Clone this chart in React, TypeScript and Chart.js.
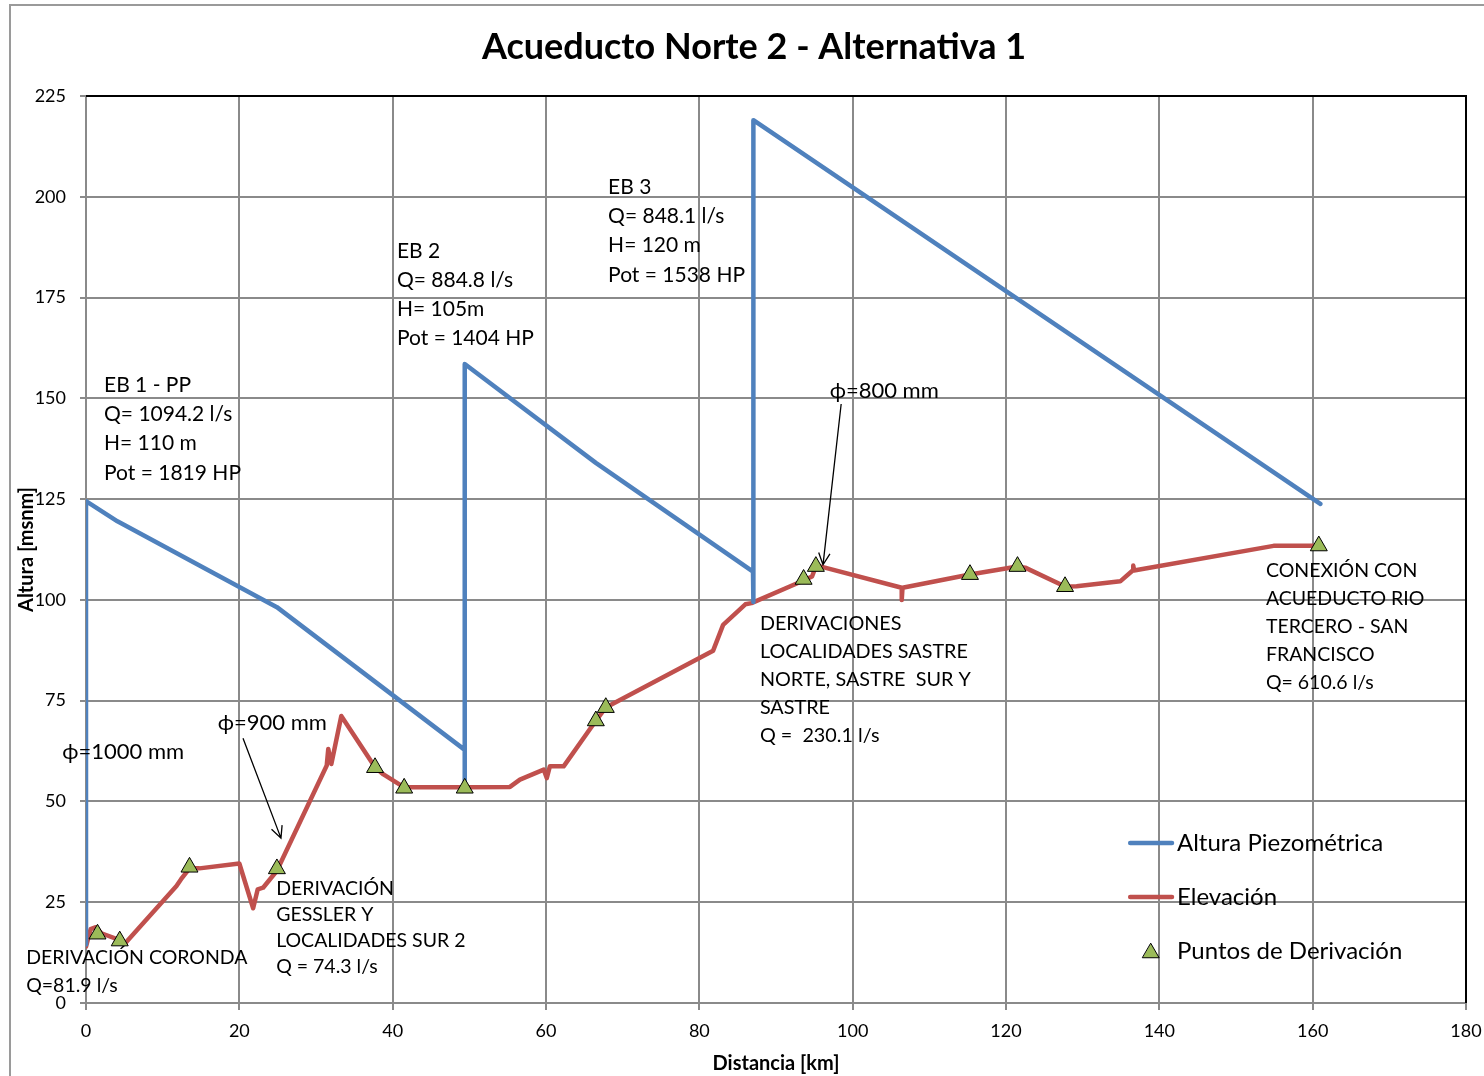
import React, { useEffect, useRef } from "react";
import { Chart, registerables } from "chart.js";

Chart.register(...registerables);

// ---- Data ----
const PIEZO_X = [0, 0, 4.1, 24.9, 49.4, 49.4, 49.4, 66.5, 87.0, 87.0, 87.1, 161.0];
const PIEZO_Y = [14.5, 124.5, 119.5, 98.2, 62.8, 53.5, 158.5, 134.0, 107.0, 99.5, 219.0, 123.8];

const ELEV_X = [0, 0.6, 1.3, 2.0, 4.4, 5.2, 11.8, 12.4, 13.5, 14.8, 20.0, 21.8, 22.4, 23.1, 24.9, 31.4, 31.6, 32.0, 33.3, 37.7, 38.8, 41.5, 42.7, 49.4, 55.3, 56.6, 59.7, 60.1, 60.5, 62.3, 66.5, 67.8, 81.8, 83.1, 86.0, 86.8, 93.6, 94.7, 95.2, 96.0, 106.4, 106.4, 106.5, 115.3, 121.5, 122.5, 127.7, 129.2, 134.9, 136.6, 136.6, 136.7, 154.9, 160.1];
const ELEV_Y = [14.0, 18.3, 18.8, 17.3, 15.6, 15.0, 29.0, 30.7, 33.4, 33.4, 34.6, 23.5, 28.2, 28.6, 32.8, 58.9, 63.0, 59.3, 71.2, 58.5, 56.7, 53.5, 53.5, 53.5, 53.6, 55.4, 57.9, 55.8, 58.7, 58.7, 70.0, 73.3, 87.4, 93.8, 98.9, 99.2, 104.8, 105.8, 108.3, 108.2, 103.0, 100.0, 103.0, 106.3, 108.3, 108.0, 103.3, 103.4, 104.6, 107.4, 108.5, 107.3, 113.4, 113.4];

const DERIV_X = [1.5, 4.4, 13.5, 24.9, 37.7, 41.5, 49.4, 66.5, 67.8, 93.6, 95.2, 115.3, 121.5, 127.7, 160.8];
const DERIV_Y = [17.1, 15.4, 33.7, 33.3, 58.4, 53.3, 53.3, 70.0, 73.3, 105.1, 108.3, 106.3, 108.3, 103.3, 113.4];

const X_MIN = 0, X_MAX = 180, X_STEP = 20;
const Y_MIN = 0, Y_MAX = 225, Y_STEP = 25;

const TITLE = "Acueducto Norte 2 - Alternativa 1";
const X_TITLE = "Distancia [km]";
const Y_TITLE = "Altura [msnm]";
const SERIES_NAMES = ["Altura Piezométrica", "Elevación", "Puntos de Derivación"];

const BLUE = "#4F81BD";
const RED = "#C0504D";
const GREEN = "#9BBB59";
const GRID = "#8a8a8a";
const FONT = "Lato, 'Open Sans', sans-serif";

// text annotations (anchor in data units, first line centre)
const NOTES = [
  { x: 2.35, y: 153.3, lh: 29.3, size: 21, lines: ["EB 1 - PP", "Q= 1094.2 l/s", "H= 110 m", "Pot = 1819 HP"] },
  { x: 40.56, y: 186.6, lh: 29.3, size: 21, lines: ["EB 2", "Q= 884.8 l/s", "H= 105m", "Pot = 1404 HP"] },
  { x: 68.1, y: 202.4, lh: 29.3, size: 21, lines: ["EB 3", "Q= 848.1 l/s", "H= 120 m", "Pot = 1538 HP"] },
  { x: 97.0, y: 151.8, lh: 28, size: 22, lines: ["ϕ=800 mm"] },
  { x: 17.2, y: 69.5, lh: 28, size: 22, lines: ["ϕ=900 mm"] },
  { x: -3.1, y: 62.3, lh: 28, size: 22, lines: ["ϕ=1000 mm"] },
  { x: 87.9, y: 94.0, lh: 28, size: 19.8, lines: ["DERIVACIONES", "LOCALIDADES SASTRE", "NORTE, SASTRE  SUR Y", "SASTRE", "Q =  230.1 l/s"] },
  { x: 153.9, y: 107.2, lh: 28, size: 19.5, lines: ["CONEXIÓN CON", "ACUEDUCTO RIO", "TERCERO - SAN", "FRANCISCO", "Q= 610.6 l/s"] },
  { x: 24.8, y: 28.3, lh: 26, size: 19.5, lines: ["DERIVACIÓN", "GESSLER Y", "LOCALIDADES SUR 2", "Q = 74.3 l/s"] },
  { x: -7.8, y: 11.2, lh: 28, size: 19.5, lines: ["DERIVACIÓN CORONDA", "Q=81.9 l/s"] },
];

const ARROWS = [
  { x1: 20.48, y1: 65.7, x2: 25.43, y2: 40.9 },
  { x1: 98.5, y1: 148.6, x2: 96.13, y2: 108.7 },
];

const LEGEND_POS = { lineX1: 136.2, lineX2: 141.65, markX: 138.9, textX: 142.3, ys: [39.7, 26.3, 12.9] };

function drawTriangle(ctx: CanvasRenderingContext2D, x: number, y: number, r: number) {
  ctx.beginPath();
  for (let i = 0; i < 3; i++) {
    const a = (i * 2 * Math.PI) / 3;
    const px = x + Math.sin(a) * r;
    const py = y - Math.cos(a) * r;
    if (i === 0) ctx.moveTo(px, py);
    else ctx.lineTo(px, py);
  }
  ctx.closePath();
  ctx.fillStyle = GREEN;
  ctx.fill();
  ctx.strokeStyle = "#000";
  ctx.lineWidth = 1;
  ctx.stroke();
}

const decorPlugin = {
  id: "decor",
  beforeDraw(chart: any) {
    const ctx = chart.ctx as CanvasRenderingContext2D;
    ctx.save();
    ctx.strokeStyle = "#9a9a9a";
    ctx.lineWidth = 2;
    ctx.beginPath();
    ctx.moveTo(10, chart.height);
    ctx.lineTo(10, 5);
    ctx.lineTo(chart.width, 5);
    ctx.stroke();
    ctx.fillStyle = "#000";
    ctx.font = `bold 36px ${FONT}`;
    ctx.textAlign = "center";
    ctx.textBaseline = "middle";
    ctx.fillText(TITLE, chart.width / 2 + 12, 47);
    ctx.restore();
  },
  beforeDatasetsDraw(chart: any) {
    const ctx = chart.ctx as CanvasRenderingContext2D;
    const a = chart.chartArea;
    ctx.save();
    ctx.strokeStyle = "#000";
    ctx.lineWidth = 2;
    ctx.beginPath();
    ctx.moveTo(a.left, a.top);
    ctx.lineTo(a.right, a.top);
    ctx.lineTo(a.right, a.bottom);
    ctx.stroke();
    ctx.restore();
  },
  afterDraw(chart: any) {
    const ctx = chart.ctx as CanvasRenderingContext2D;
    const xs = chart.scales.x;
    const ys = chart.scales.y;
    ctx.save();
    ctx.fillStyle = "#000";
    ctx.textAlign = "left";
    ctx.textBaseline = "middle";
    for (const n of NOTES) {
      ctx.font = `${n.size}px ${FONT}`;
      const px = xs.getPixelForValue(n.x);
      const py = ys.getPixelForValue(n.y);
      n.lines.forEach((t, i) => ctx.fillText(t, px, py + i * n.lh));
    }
    // arrows
    ctx.strokeStyle = "#000";
    ctx.lineWidth = 1.3;
    for (const ar of ARROWS) {
      const x1 = xs.getPixelForValue(ar.x1), y1 = ys.getPixelForValue(ar.y1);
      const x2 = xs.getPixelForValue(ar.x2), y2 = ys.getPixelForValue(ar.y2);
      ctx.beginPath();
      ctx.moveTo(x1, y1);
      ctx.lineTo(x2, y2);
      const ang = Math.atan2(y2 - y1, x2 - x1);
      const L = 13, spread = 0.45;
      ctx.moveTo(x2 - L * Math.cos(ang - spread), y2 - L * Math.sin(ang - spread));
      ctx.lineTo(x2, y2);
      ctx.lineTo(x2 - L * Math.cos(ang + spread), y2 - L * Math.sin(ang + spread));
      ctx.stroke();
    }
    // legend
    const lx1 = xs.getPixelForValue(LEGEND_POS.lineX1);
    const lx2 = xs.getPixelForValue(LEGEND_POS.lineX2);
    const mx = xs.getPixelForValue(LEGEND_POS.markX);
    const tx = xs.getPixelForValue(LEGEND_POS.textX);
    const lys = LEGEND_POS.ys.map((v) => ys.getPixelForValue(v));
    ctx.lineCap = "round";
    ctx.lineWidth = 4.5;
    ctx.strokeStyle = BLUE;
    ctx.beginPath(); ctx.moveTo(lx1, lys[0]); ctx.lineTo(lx2, lys[0]); ctx.stroke();
    ctx.strokeStyle = RED;
    ctx.beginPath(); ctx.moveTo(lx1, lys[1]); ctx.lineTo(lx2, lys[1]); ctx.stroke();
    drawTriangle(ctx, mx, lys[2] + 2, 9.5);
    ctx.fillStyle = "#000";
    ctx.font = `24px ${FONT}`;
    SERIES_NAMES.forEach((s, i) => ctx.fillText(s, tx, lys[i]));
    ctx.restore();
  },
};

export default function App() {
  const ref = useRef<HTMLCanvasElement | null>(null);
  useEffect(() => {
    if (!ref.current) return;
    const toPts = (xa: number[], ya: number[]) => xa.map((x, i) => ({ x, y: ya[i] }));
    const chart = new Chart(ref.current, {
      type: "scatter",
      data: {
        datasets: [
          {
            label: SERIES_NAMES[2],
            data: toPts(DERIV_X, DERIV_Y),
            showLine: false,
            pointStyle: "triangle",
            pointRadius: 9.8,
            pointBackgroundColor: GREEN,
            pointBorderColor: "#000",
            pointBorderWidth: 1,
          },
          {
            label: SERIES_NAMES[0],
            data: toPts(PIEZO_X, PIEZO_Y),
            showLine: true,
            borderColor: BLUE,
            borderWidth: 4.5,
            pointRadius: 0,
            borderJoinStyle: "round",
            borderCapStyle: "round",
          },
          {
            label: SERIES_NAMES[1],
            data: toPts(ELEV_X, ELEV_Y),
            showLine: true,
            borderColor: RED,
            borderWidth: 4.5,
            pointRadius: 0,
            borderJoinStyle: "round",
            borderCapStyle: "round",
          },
        ],
      },
      options: {
        animation: false,
        responsive: false,
        layout: { padding: { left: 10, top: 96, right: 18, bottom: 0 } },
        plugins: { legend: { display: false }, tooltip: { enabled: false }, title: { display: false } },
        scales: {
          x: {
            type: "linear",
            min: X_MIN,
            max: X_MAX,
            afterFit: (s: any) => { s.height = 73; s.paddingLeft = 0; s.paddingRight = 0; },
            ticks: { stepSize: X_STEP, color: "#000", font: { family: FONT, size: 18 }, padding: 10, maxRotation: 0 },
            grid: { color: GRID, lineWidth: 2, tickLength: 7, tickColor: GRID, tickWidth: 2 },
            border: { color: GRID, width: 2 },
            title: { display: true, text: X_TITLE, color: "#000", font: { family: FONT, size: 20, weight: "bold" }, padding: { top: 0, bottom: 0 } },
          },
          y: {
            type: "linear",
            min: Y_MIN,
            max: Y_MAX,
            afterFit: (s: any) => { s.width = 76; s.paddingTop = 0; s.paddingBottom = 0; },
            ticks: { stepSize: Y_STEP, color: "#000", font: { family: FONT, size: 18 }, padding: 14 },
            grid: { color: GRID, lineWidth: 2, tickLength: 6, tickColor: GRID, tickWidth: 2 },
            border: { color: GRID, width: 2 },
            title: { display: true, text: Y_TITLE, color: "#000", font: { family: FONT, size: 20, weight: "bold" }, padding: { top: 5, bottom: 0 } },
          },
        },
      },
      plugins: [decorPlugin],
    });
    return () => chart.destroy();
  }, []);
  return (
    <div style={{ position: "absolute", left: 0, top: 0, width: 1484, height: 1076, background: "#fff" }}>
      <canvas ref={ref} width={1484} height={1076} style={{ display: "block", width: 1484, height: 1076 }} />
    </div>
  );
}
